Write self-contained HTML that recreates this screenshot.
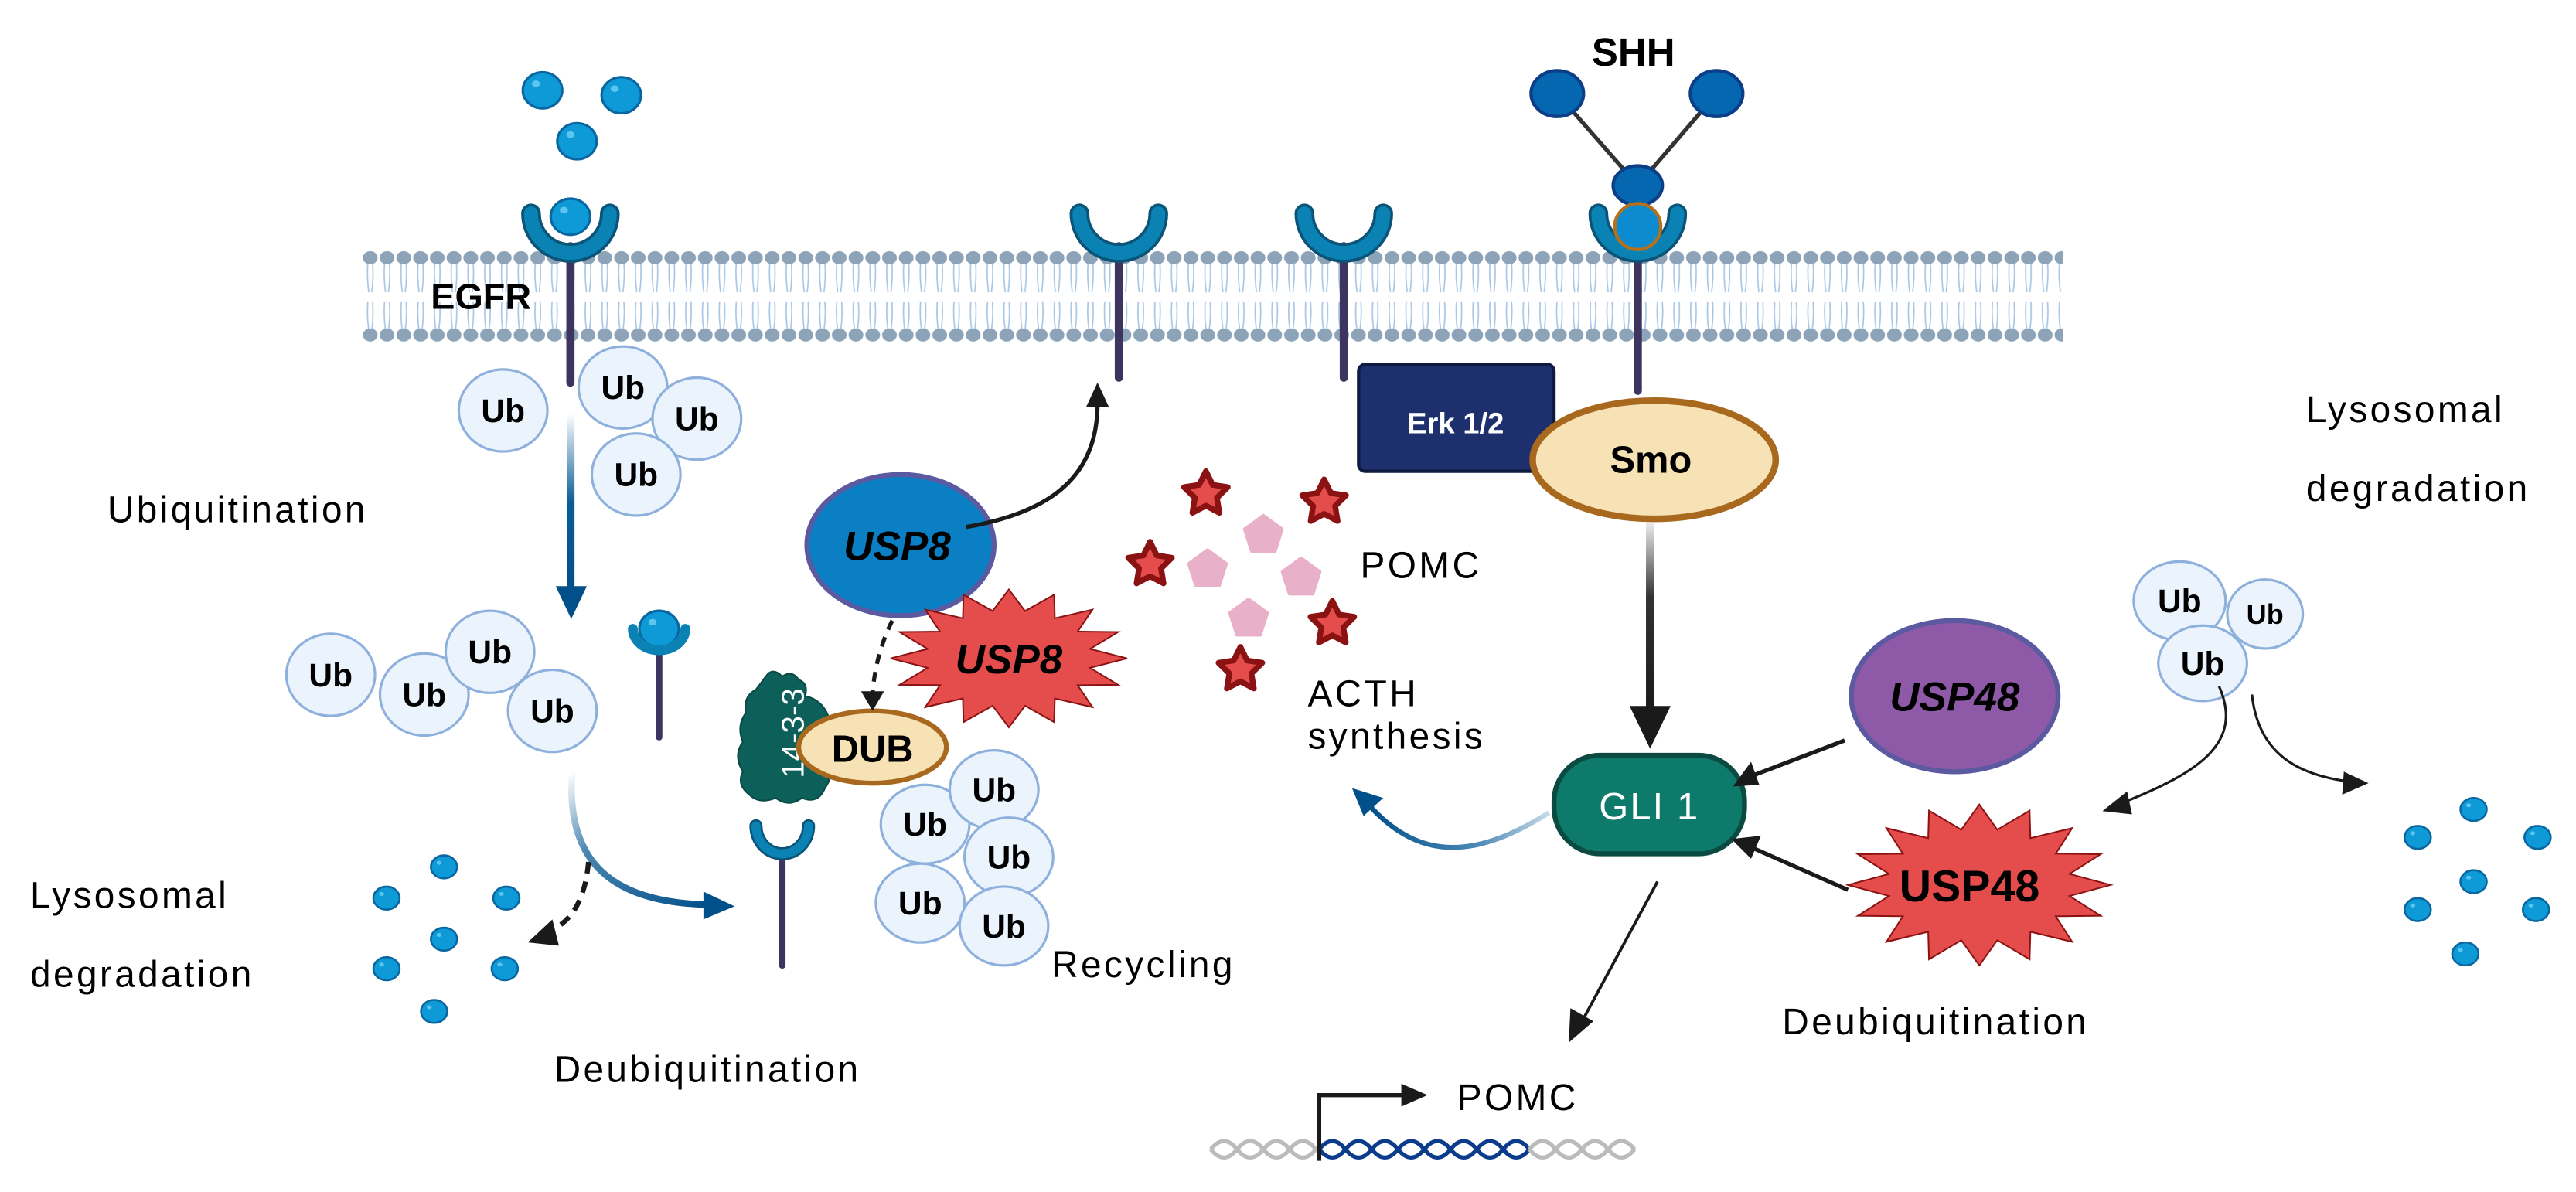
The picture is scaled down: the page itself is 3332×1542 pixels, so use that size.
<!DOCTYPE html>
<html><head><meta charset="utf-8"><style>
html,body{margin:0;padding:0;background:#fff;}
svg{display:block;}
text{font-family:"Liberation Sans",sans-serif;}
.lb{font-size:22.5px;letter-spacing:1.6px;}
</style></head><body>
<svg width="3332" height="1542" viewBox="0 0 1568 726" xmlns="http://www.w3.org/2000/svg">
<defs>
<pattern id="mem" x="220" y="150" width="10.2" height="62" patternUnits="userSpaceOnUse">
  <path d="M3.6,10 Q3,19 4.2,28 M6.6,10 Q7.2,19 6,28 M3.6,34 Q3,43 4.2,51 M6.6,34 Q7.2,43 6,51" stroke="#a8c6e6" stroke-width="0.8" fill="none"/>
  <ellipse cx="5.1" cy="7" rx="4.5" ry="4" fill="#8da3b8"/>
  <ellipse cx="5.1" cy="54" rx="4.5" ry="4" fill="#8da3b8"/>
</pattern>
<linearGradient id="gblue" x1="0" y1="0" x2="0" y2="1"><stop offset="0" stop-color="#fff"/><stop offset="0.5" stop-color="#0a5d96"/><stop offset="1" stop-color="#02508a"/></linearGradient>
<linearGradient id="gblue2" x1="0" y1="0" x2="1" y2="1"><stop offset="0" stop-color="#fff"/><stop offset="0.35" stop-color="#4a86b0"/><stop offset="1" stop-color="#02508a"/></linearGradient>
<linearGradient id="gblk" x1="0" y1="0" x2="0" y2="1"><stop offset="0" stop-color="#eee"/><stop offset="0.4" stop-color="#333"/><stop offset="1" stop-color="#1a1a1a"/></linearGradient>
<linearGradient id="gteal" x1="1" y1="0" x2="0" y2="0"><stop offset="0" stop-color="#c7dbe8"/><stop offset="0.4" stop-color="#4a88b5"/><stop offset="1" stop-color="#02508a"/></linearGradient>
<g id="ball"><ellipse rx="12" ry="11" fill="#0d9ad6" stroke="#0a66a0" stroke-width="1.5"/><ellipse cx="-4" cy="-4" rx="2.5" ry="2" fill="#5cc4ee"/></g>
<g id="dot"><ellipse rx="8" ry="7" fill="#0d9ad6" stroke="#0a66a0" stroke-width="1.2"/><ellipse cx="-3" cy="-2.5" rx="1.5" ry="1.2" fill="#5cc4ee"/></g>
<g id="cup"><path d="M-24,4 A24,24 0 0 0 24,4" fill="none" stroke="#0b5478" stroke-width="12" stroke-linecap="round"/><path d="M-24,4 A24,24 0 0 0 24,4" fill="none" stroke="#0a82b4" stroke-width="8.5" stroke-linecap="round"/></g>
<polygon id="rstar" points="0,-14 4.1,-5.7 13.3,-4.3 6.7,2.2 8.2,11.3 0,7 -8.2,11.3 -6.7,2.2 -13.3,-4.3 -4.1,-5.7" fill="#e54c4c" stroke="#8b1212" stroke-width="3.5" stroke-linejoin="round"/>
<polygon id="pent" points="0,-12 11.4,-3.7 7.1,9.7 -7.1,9.7 -11.4,-3.7" fill="#e8b0c9" stroke="#e8b0c9" stroke-width="2" stroke-linejoin="round"/>
<polygon id="burst" points="1,0 .687,.137 .924,.383 .582,.389 .707,.707 .389,.582 .383,.924 .137,.687 0,1 -.137,.687 -.383,.924 -.389,.582 -.707,.707 -.582,.389 -.924,.383 -.687,.137 -1,0 -.687,-.137 -.924,-.383 -.582,-.389 -.707,-.707 -.389,-.582 -.383,-.924 -.137,-.687 0,-1 .137,-.687 .383,-.924 .389,-.582 .707,-.707 .582,-.389 .924,-.383 .687,-.137" fill="#e54c4c" stroke="#8b1212" stroke-width="2" vector-effect="non-scaling-stroke" stroke-linejoin="miter"/>
</defs>

<rect x="220" y="150" width="1036" height="62" fill="url(#mem)"/>

<use href="#ball" x="330" y="55"/>
<use href="#ball" x="378" y="58"/>
<use href="#ball" x="351" y="86"/>
<line x1="347" y1="150" x2="347" y2="233" stroke="#3d3560" stroke-width="5" stroke-linecap="round"/>
<use href="#ball" x="347" y="132"/>
<use href="#cup" x="347" y="126"/>
<text x="262" y="188" font-size="22" font-weight="bold">EGFR</text>

<g fill="#ebf4fd" stroke="#8eb0dc" stroke-width="1.5">
<ellipse cx="306" cy="250" rx="27" ry="25"/><ellipse cx="379" cy="236" rx="27" ry="25"/><ellipse cx="424" cy="255" rx="27" ry="25"/><ellipse cx="387" cy="289" rx="27" ry="25"/>
<ellipse cx="201" cy="411" rx="27" ry="25"/><ellipse cx="258" cy="423" rx="27" ry="25"/><ellipse cx="298" cy="397" rx="27" ry="25"/><ellipse cx="336" cy="433" rx="27" ry="25"/>
<ellipse cx="563" cy="502" rx="27" ry="24"/><ellipse cx="605" cy="481" rx="27" ry="24"/><ellipse cx="614" cy="522" rx="27" ry="24"/><ellipse cx="560" cy="550" rx="27" ry="24"/><ellipse cx="611" cy="564" rx="27" ry="24"/>
<ellipse cx="1327" cy="366" rx="28" ry="24"/><ellipse cx="1379" cy="374" rx="23" ry="21"/><ellipse cx="1341" cy="404" rx="27" ry="23"/>
</g>
<g font-weight="bold" font-size="20" text-anchor="middle" fill="#000">
<text x="306" y="257">Ub</text><text x="379" y="243">Ub</text><text x="424" y="262">Ub</text><text x="387" y="296">Ub</text>
<text x="201" y="418">Ub</text><text x="258" y="430">Ub</text><text x="298" y="404">Ub</text><text x="336" y="440">Ub</text>
<text x="563" y="509">Ub</text><text x="605" y="488">Ub</text><text x="614" y="529">Ub</text><text x="560" y="557">Ub</text><text x="611" y="571">Ub</text>
<text x="1327" y="373">Ub</text><text x="1379" y="380" font-size="17">Ub</text><text x="1341" y="411">Ub</text>
</g>

<text class="lb" x="65" y="318">Ubiquitination</text>
<rect x="345" y="252" width="4.5" height="108" fill="url(#gblue)"/>
<path d="M338,357 L357,357 L347.5,377 Z" fill="#02508a"/>

<line x1="401" y1="395" x2="401" y2="449" stroke="#3d3560" stroke-width="4" stroke-linecap="round"/>
<use href="#ball" x="401" y="383"/>
<path d="M385,383 A16,13 0 0 0 417,383" fill="none" stroke="#0a82b4" stroke-width="6" stroke-linecap="round"/>

<path d="M348,470 C344,525 372,550 432,551" fill="none" stroke="url(#gblue2)" stroke-width="4"/>
<path d="M428,543 L447,552 L428,560 Z" fill="#02508a"/>
<path d="M358,525 Q355,560 332,568" fill="none" stroke="#1a1a1a" stroke-width="3" stroke-dasharray="7,5"/>
<path d="M321,574 L336,560 L340,576 Z" fill="#1a1a1a"/>

<use href="#dot" x="235" y="547"/><use href="#dot" x="270" y="528"/><use href="#dot" x="308" y="547"/><use href="#dot" x="270" y="572"/><use href="#dot" x="235" y="590"/><use href="#dot" x="307" y="590"/><use href="#dot" x="264" y="616"/>
<text class="lb" x="18" y="553">Lysosomal</text>
<text class="lb" x="18" y="601">degradation</text>
<text class="lb" x="337" y="659">Deubiquitination</text>

<line x1="476" y1="522" x2="476" y2="588" stroke="#3d3560" stroke-width="4" stroke-linecap="round"/>
<path d="M460,503 A16,17 0 0 0 492,503" fill="none" stroke="#0b5478" stroke-width="8" stroke-linecap="round"/>
<path d="M460,503 A16,17 0 0 0 492,503" fill="none" stroke="#0a82b4" stroke-width="5.5" stroke-linecap="round"/>
<path d="M466,412 Q470,406 476,412 Q482,408 486,414 Q492,416 490,424 Q500,426 504,436 Q510,448 504,460 Q508,472 502,480 Q498,490 488,486 Q480,492 472,486 Q462,490 456,484 Q448,478 452,470 Q446,460 452,452 Q448,442 454,434 Q452,424 460,420 Z" fill="#0d5f5a" stroke="#0a4a45" stroke-width="1"/>
<text transform="translate(489,474) rotate(-90)" font-size="19" fill="#fff">14-3-3</text>
<ellipse cx="531" cy="455" rx="45" ry="22" fill="#f7e2b5" stroke="#a8691e" stroke-width="3"/>
<text x="531" y="464" font-size="23" font-weight="bold" text-anchor="middle">DUB</text>
<path d="M543,378 Q533,398 531,422" fill="none" stroke="#1a1a1a" stroke-width="2.5" stroke-dasharray="6,5"/>
<path d="M524,421 L538,421 L531,433 Z" fill="#1a1a1a"/>

<ellipse cx="548" cy="332" rx="57" ry="43" fill="#0a7fc4" stroke="#5b5aa0" stroke-width="3"/>
<text x="546" y="341" font-size="25" font-weight="bold" font-style="italic" text-anchor="middle">USP8</text>
<path d="M588,321 C640,312 668,290 668,246" fill="none" stroke="#1a1a1a" stroke-width="2.5"/>
<path d="M661,248 L668,233 L675,248 Z" fill="#1a1a1a"/>
<use href="#burst" transform="translate(614,401) scale(72,42)"/>
<text x="614" y="410" font-size="25" font-weight="bold" font-style="italic" text-anchor="middle">USP8</text>
<text class="lb" x="640" y="595">Recycling</text>

<line x1="681" y1="150" x2="681" y2="230" stroke="#3d3560" stroke-width="5" stroke-linecap="round"/>
<use href="#cup" x="681" y="126"/>
<line x1="818" y1="150" x2="818" y2="230" stroke="#3d3560" stroke-width="5" stroke-linecap="round"/>
<use href="#cup" x="818" y="126"/>

<line x1="997" y1="150" x2="997" y2="238" stroke="#3d3560" stroke-width="5" stroke-linecap="round"/>
<line x1="948" y1="57" x2="997" y2="113" stroke="#333" stroke-width="2.5"/>
<line x1="1045" y1="57" x2="997" y2="113" stroke="#333" stroke-width="2.5"/>
<ellipse cx="948" cy="57" rx="16" ry="14" fill="#0467b0" stroke="#0b3e86" stroke-width="2"/>
<ellipse cx="1045" cy="57" rx="16" ry="14" fill="#0467b0" stroke="#0b3e86" stroke-width="2"/>
<ellipse cx="997" cy="113" rx="15" ry="12" fill="#0467b0" stroke="#0b3e86" stroke-width="2"/>
<use href="#cup" x="997" y="126"/>
<ellipse cx="997" cy="138" rx="14" ry="14" fill="#0d8bd0" stroke="#b5701c" stroke-width="2"/>
<text x="969" y="40" font-size="24" font-weight="bold">SHH</text>

<rect x="827" y="222" width="119" height="65" rx="4" fill="#1d306d" stroke="#0f1a40" stroke-width="2"/>
<text x="886" y="264" font-size="18" font-weight="bold" fill="#fff" text-anchor="middle">Erk 1/2</text>
<ellipse cx="1007" cy="280" rx="74" ry="36" fill="#f7e2b5" stroke="#a8691e" stroke-width="4"/>
<text x="1005" y="288" font-size="23" font-weight="bold" text-anchor="middle">Smo</text>
<rect x="1002" y="318" width="5" height="114" fill="url(#gblk)"/>
<path d="M992,430 L1017,430 L1004.5,456 Z" fill="#1a1a1a"/>

<use href="#rstar" x="734" y="301"/><use href="#rstar" x="806" y="306"/><use href="#rstar" x="700" y="344"/><use href="#rstar" x="811" y="380"/><use href="#rstar" x="755" y="408"/>
<use href="#pent" x="769" y="326"/><use href="#pent" x="735" y="347"/><use href="#pent" x="792" y="352"/><use href="#pent" x="760" y="377"/>
<text class="lb" x="828" y="352">POMC</text>
<text class="lb" x="796" y="430">ACTH</text>
<text class="lb" x="796" y="456">synthesis</text>

<rect x="946" y="460" width="116" height="60" rx="28" fill="#0e7a6c" stroke="#0a4a40" stroke-width="3"/>
<text x="1004" y="499" font-size="23" fill="#fff" text-anchor="middle" letter-spacing="1">GLI 1</text>
<path d="M943,495 C900,522 865,526 833,490" fill="none" stroke="url(#gteal)" stroke-width="3"/>
<path d="M823,480 L842,486 L830,497 Z" fill="#02508a"/>
<line x1="1009" y1="537" x2="962" y2="624" stroke="#1a1a1a" stroke-width="1.8"/>
<path d="M955,635 L956,614 L970,622 Z" fill="#1a1a1a"/>

<g fill="none" stroke-width="2.5">
<path d="M737,700 q8,-10 16,0 t16,0 t16,0 t16,0 M737,700 q8,10 16,0 t16,0 t16,0 t16,0" stroke="#bbb"/>
<path d="M803,700 q8,-10 16,0 t16,0 t16,0 t16,0 t16,0 t16,0 t16,0 t16,0 M803,700 q8,10 16,0 t16,0 t16,0 t16,0 t16,0 t16,0 t16,0 t16,0" stroke="#0b3c8c"/>
<path d="M931,700 q8,-10 16,0 t16,0 t16,0 t16,0 M931,700 q8,10 16,0 t16,0 t16,0 t16,0" stroke="#bbb"/>
</g>
<path d="M803,707 L803,667 L856,667" fill="none" stroke="#1a1a1a" stroke-width="2.5"/>
<path d="M853,660 L869,667 L853,674 Z" fill="#1a1a1a"/>
<text class="lb" x="887" y="676">POMC</text>

<ellipse cx="1190" cy="424" rx="63" ry="46" fill="#8e5aa8" stroke="#5b5aa0" stroke-width="3"/>
<text x="1190" y="433" font-size="25" font-weight="bold" font-style="italic" text-anchor="middle">USP48</text>
<use href="#burst" transform="translate(1205,539) scale(80,49)"/>
<text x="1199" y="549" font-size="27" font-weight="bold" text-anchor="middle">USP48</text>
<line x1="1123" y1="451" x2="1068" y2="472" stroke="#1a1a1a" stroke-width="2.5"/>
<path d="M1055,479 L1066,464 L1071,478 Z" fill="#1a1a1a"/>
<line x1="1125" y1="542" x2="1066" y2="516" stroke="#1a1a1a" stroke-width="2.5"/>
<path d="M1054,511 L1072,509 L1066,523 Z" fill="#1a1a1a"/>
<text class="lb" x="1085" y="630">Deubiquitination</text>

<path d="M1351,418 C1366,452 1340,470 1292,489" fill="none" stroke="#1a1a1a" stroke-width="1.5"/>
<path d="M1280,494 L1295,482 L1298,496 Z" fill="#1a1a1a"/>
<path d="M1371,423 C1375,460 1400,472 1430,476" fill="none" stroke="#1a1a1a" stroke-width="1.5"/>
<path d="M1442,477 L1427,470 L1426,484 Z" fill="#1a1a1a"/>
<text class="lb" x="1404" y="257">Lysosomal</text>
<text class="lb" x="1404" y="305">degradation</text>
<use href="#dot" x="1506" y="493"/><use href="#dot" x="1472" y="510"/><use href="#dot" x="1545" y="510"/><use href="#dot" x="1506" y="537"/><use href="#dot" x="1472" y="554"/><use href="#dot" x="1544" y="554"/><use href="#dot" x="1501" y="581"/>
</svg>
</body></html>
